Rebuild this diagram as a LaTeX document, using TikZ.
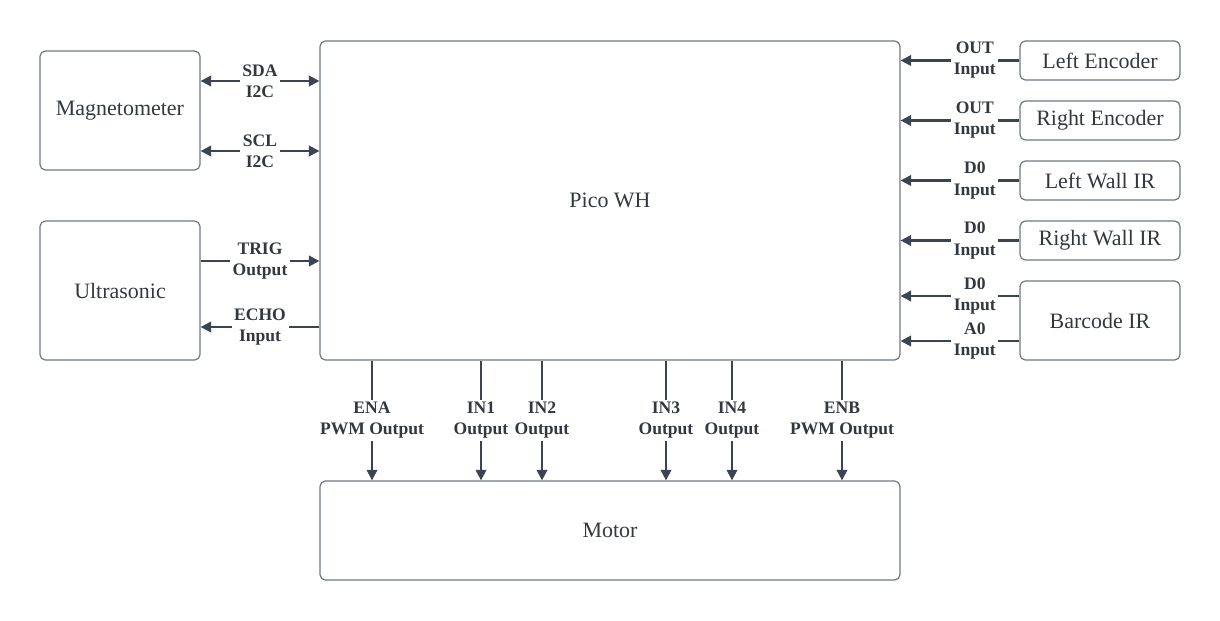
\documentclass[tikz,border=0pt]{standalone}
\usepackage{fontspec}
\setmainfont{Liberation Serif}
\usetikzlibrary{arrows.meta}
\definecolor{wire}{HTML}{3B4450}
\definecolor{edge}{HTML}{6E7883}
\definecolor{ink}{HTML}{333840}
\tikzset{
  block/.style={draw=edge, line width=0.7pt, rounded corners=3pt, text=ink,
    font=\fontsize{12.5}{15}\selectfont, inner sep=0pt},
  wirelink/.style={wire, line width=1.2pt, -{Triangle[length=6pt,width=6pt]}},
  bothlink/.style={wire, line width=1.2pt, {Triangle[length=6pt,width=6pt]}-{Triangle[length=6pt,width=6pt]}},
  pinlabel/.style={fill=white, text=ink, font=\fontsize{10}{12}\selectfont\bfseries,
    align=center, inner sep=1.5pt}
}
\begin{document}
\begin{tikzpicture}[x=0.02cm, y=-0.02cm]
\useasboundingbox (0,0) rectangle (1220,621);

%%%%%%%%%%%%%-------------blocks
\node[block, minimum width=11.6cm, minimum height=6.38cm] (pico) at (610,200.5) {Pico WH};
\node[block, minimum width=11.6cm, minimum height=1.98cm] (motor) at (610,530.5) {Motor};
\node[block, minimum width=3.2cm, minimum height=2.38cm] (mag) at (120,110.5) {Magnetometer};
\node[block, minimum width=3.2cm, minimum height=2.78cm] (ultra) at (120,290.5) {Ultrasonic};
\node[block, minimum width=3.2cm, minimum height=0.78cm] (lenc) at (1100,60.5) {Left Encoder};
\node[block, minimum width=3.2cm, minimum height=0.78cm] (renc) at (1100,120.5) {Right Encoder};
\node[block, minimum width=3.2cm, minimum height=0.78cm] (lwall) at (1100,180.5) {Left Wall IR};
\node[block, minimum width=3.2cm, minimum height=0.78cm] (rwall) at (1100,240.5) {Right Wall IR};
\node[block, minimum width=3.2cm, minimum height=1.58cm] (barcode) at (1100,320.5) {Barcode IR};

%%%%%%%%%%%%%-------------left side
\draw[bothlink] (mag.east |- 0,81) -- (pico.west |- 0,81) node[pinlabel, midway] {SDA\\I2C};
\draw[bothlink] (mag.east |- 0,151) -- (pico.west |- 0,151) node[pinlabel, midway] {SCL\\I2C};
\draw[wirelink] (ultra.east |- 0,261) -- (pico.west |- 0,261) node[pinlabel, midway] {TRIG\\Output};
\draw[wirelink] (pico.west |- 0,327) -- (ultra.east |- 0,327) node[pinlabel, midway] {ECHO\\Input};

%%%%%%%%%%%%%-------------right side
\draw[wirelink] (lenc.west) -- (pico.east |- lenc.west) node[pinlabel, pos=.375] {OUT\\Input};
\draw[wirelink] (renc.west) -- (pico.east |- renc.west) node[pinlabel, pos=.375] {OUT\\Input};
\draw[wirelink] (lwall.west) -- (pico.east |- lwall.west) node[pinlabel, pos=.375] {D0\\Input};
\draw[wirelink] (rwall.west) -- (pico.east |- rwall.west) node[pinlabel, pos=.375] {D0\\Input};
\draw[wirelink] (barcode.west |- 0,296) -- (pico.east |- 0,296) node[pinlabel, pos=.375] {D0\\Input};
\draw[wirelink] (barcode.west |- 0,341) -- (pico.east |- 0,341) node[pinlabel, pos=.375] {A0\\Input};

%%%%%%%%%%%%%-------------motor driver
\foreach \x/\pin/\kind in {372/ENA/PWM Output, 481/IN1/Output, 542/IN2/Output,
                            666/IN3/Output, 732/IN4/Output, 842/ENB/PWM Output}{
\draw[wirelink] (pico.south -| \x,0) -- (motor.north -| \x,0) node[pinlabel, midway] {\pin\\\kind};}

\end{tikzpicture}
\end{document}
